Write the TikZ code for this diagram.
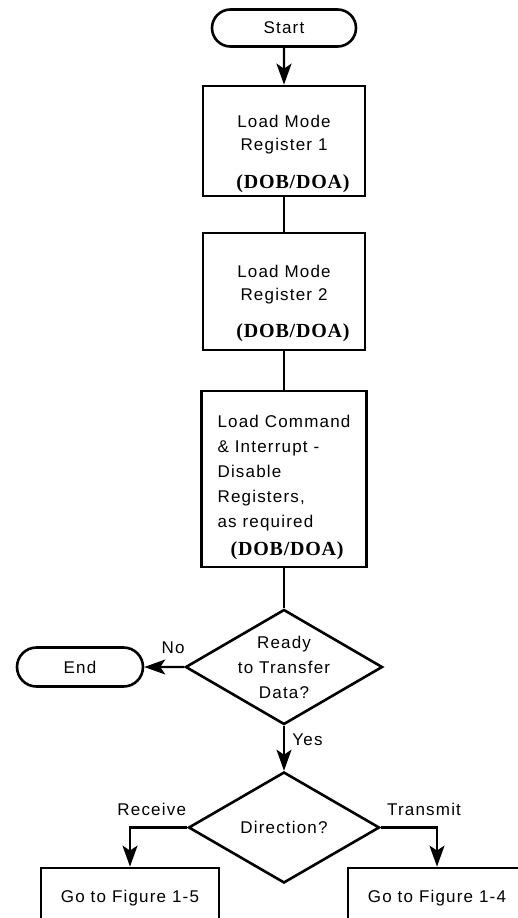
\documentclass[tikz,border=0pt]{standalone}
\usepackage{fontspec}
\setmainfont{Liberation Sans}[LetterSpace=7]
\newfontfamily\dobfont{Liberation Serif}[LetterSpace=4]
\usetikzlibrary{shapes.misc,shapes.geometric,arrows.meta}
\newcommand{\dob}{\dobfont\bfseries\fontsize{20}{23}\selectfont}
\newcommand{\topsp}[1]{\rule{0pt}{#1}}

\begin{document}
\begin{tikzpicture}[x=1pt,y=-1pt]

			\tikzstyle{terminal}=[rounded rectangle,draw=black,line width=2.6pt,
				minimum height=37pt,inner sep=2pt,
				font=\fontsize{17}{20}\selectfont]
			\tikzstyle{process}=[rectangle,draw=black,line width=2.8pt,
				minimum width=162pt,align=center,
				font=\fontsize{17}{23}\selectfont]
			\tikzstyle{decision}=[diamond,draw=black,line width=2.6pt,
				aspect=1.7,inner sep=-10pt,align=center,
				font=\fontsize{17}{25}\selectfont]
			\tikzstyle{gobox}=[rectangle,draw=black,line width=2.8pt,
				minimum width=178pt,minimum height=60pt,
				font=\fontsize{17}{20}\selectfont]
			\tikzstyle{link}=[draw=black,line width=2.2pt]
			\tikzstyle{flow}=[link,-{Stealth[length=21pt,width=15pt,inset=5pt]}]
			\tikzstyle{lbl}=[font=\fontsize{17}{20}\selectfont]

			\useasboundingbox (0,0) rectangle (518,918);
			\clip (0,0) rectangle (518,918);

			\node[terminal,minimum width=148pt]	(start)	at (284,28)	{Start};
			\node[process,below of=start,node distance=113pt,
				minimum height=108pt]	(box1)
				{\topsp{38pt}Load Mode\\Register 1\\[15pt]\hspace*{18pt}{\dob (DOB/DOA)}};
			\node[process,below of=box1,node distance=150.5pt,
				minimum height=117pt]	(box2)
				{\topsp{36pt}Load Mode\\Register 2\\[14pt]\hspace*{18pt}{\dob (DOB/DOA)}};
			\node[process,below of=box2,node distance=187.5pt,
				minimum width=165pt,minimum height=176pt,align=left,
				font=\fontsize{17}{25}\selectfont]	(box3)
				{\topsp{29pt}Load Command\\\& Interrupt -\\Disable\\Registers,\\as required\\[3pt]\hspace*{13pt}{\dob (DOB/DOA)}};
			\node[decision,below of=box3,node distance=188pt,
				minimum width=197pt,minimum height=115pt]	(ready)
				{Ready\\to Transfer\\Data?};
			\node[terminal,left of=ready,node distance=204pt,
				minimum width=130pt,minimum height=39pt]	(end)	{End};
			\node[decision,below of=ready,node distance=160.5pt,
				minimum width=191pt,minimum height=111pt]	(dir)	{Direction?};
			\node[gobox,below of=dir,node distance=70.5pt,xshift=-154pt]	(fig5)	{Go to Figure 1-5};
			\node[gobox,below of=dir,node distance=70.5pt,xshift=153pt]	(fig4)	{Go to Figure 1-4};

			\draw[flow]	(start) -- (box1);
			\draw[link]	(box1) -- (box2);
			\draw[link]	(box2) -- (box3);
			\draw[link]	(box3) -- (ready);
			\draw[flow]	(ready) -- node[lbl,above=9pt,pos=0.28] (no) {No} (end);
			\draw[flow]	(ready) -- node[lbl,right=4pt,pos=0.32] (yes) {Yes} (dir);
			\draw[flow]	(dir) -| node[lbl,above=7pt,pos=0.31] (recv) {Receive} (fig5);
			\draw[flow]	(dir) -| node[lbl,above=7pt,pos=0.385] (xmit) {Transmit} (fig4);

\end{tikzpicture}
\end{document}
